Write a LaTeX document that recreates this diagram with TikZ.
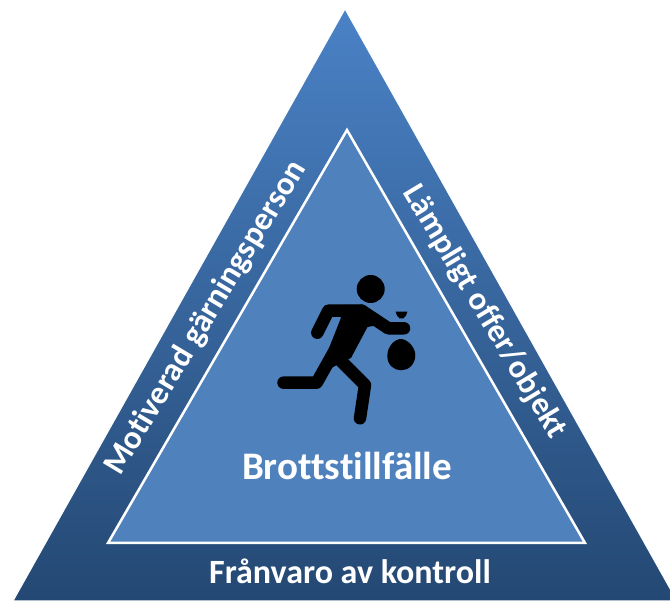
\documentclass[tikz,border=0pt]{standalone}
\usepackage{fontspec}
\setmainfont[RawFeature={-liga}]{Carlito}
\definecolor{gradtop}{HTML}{4A82C6}
\definecolor{gradbot}{HTML}{244873}
\definecolor{innerblue}{HTML}{4F81BD}
\tikzset{
  label text/.style={text=white,inner sep=0pt},
  limb/.style={draw=black,line width=12.5pt,line cap=round,line join=round},
}
\begin{document}
\begin{tikzpicture}[x=1pt,y=-1pt]
\useasboundingbox (0,0) rectangle (670,601);
\begin{scope}
\clip (0,0) rectangle (670,601);
\shade[top color=gradtop,bottom color=gradbot,draw=white,line width=1pt]
  (345,9) -- (677,601) -- (13,601) -- cycle;
\end{scope}
\draw[fill=innerblue,draw=white,line width=2.5pt,line join=miter] (347,130) -- (585,543) -- (108,543) -- cycle;
% figure
\fill (370.7,289) circle (14);
\fill (343,305) -- (363,305) -- (389,323) -- (367.5,327) -- (351,358) -- (335,366) -- (318,376) -- (340.5,319) -- cycle;
\draw[limb] (361.7,310.7) -- (328.3,310.7) -- (317.3,332.7);
\draw[limb] (361.7,310.7) -- (388.3,328.3) -- (404,328.3);
\draw[limb] (335,350) -- (316.7,382.7) -- (283.5,382.7);
\draw[limb] (340,360) -- (365,385) -- (360,418.3);
\fill (401,339) .. controls (395,339) and (387.3,346) .. (387.3,356)
  .. controls (387.3,365) and (394,370.3) .. (401,370.3)
  .. controls (408,370.3) and (415.3,365) .. (415.3,355)
  .. controls (415.3,347) and (407,339) .. (401,339) -- cycle;
\fill (395.7,311.7) -- (407.3,311.7) -- (406,315.5) -- (403.5,318.3) -- (399.5,318.3) -- (397,315.5) -- cycle;
% text
\node[label text,font=\bfseries\fontsize{39}{46}\selectfont] (center) at (347,466) {Brottstillfälle};
\node[label text,font=\bfseries\fontsize{34}{40}\selectfont] (bottom) at (350,571) {Frånvaro av kontroll};
\node[label text,font=\bfseries\fontsize{33}{40}\selectfont,rotate=59] (left) at (206,318) {Motiverad gärningsperson};
\node[label text,font=\bfseries\fontsize{32.5}{39}\selectfont,rotate=-59] (right) at (484.5,312) {Lämpligt offer/objekt};
\end{tikzpicture}
\end{document}
